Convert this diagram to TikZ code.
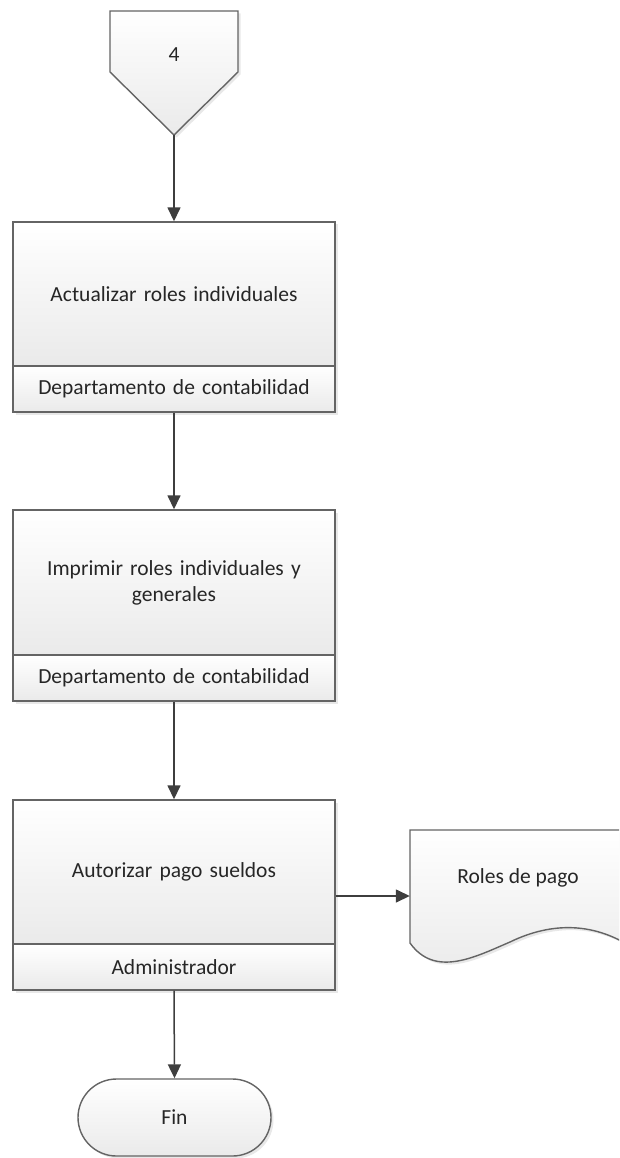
\documentclass[tikz,border=0pt]{standalone}
\usepackage{fontspec}
\setmainfont{Carlito}
\usetikzlibrary{arrows.meta,shapes.misc,shadows,calc}

\definecolor{edge}{HTML}{646464}
\definecolor{wire}{HTML}{3E3E3E}
\definecolor{ink}{HTML}{262626}
\definecolor{fillbot}{HTML}{EAEAEA}

\newcommand\lblfont{\fontsize{21.5pt}{26pt}\selectfont}

\tikzset{
  shadebox/.style={draw=edge, line width=1.4pt, top color=white, bottom color=fillbot,
    drop shadow={shadow xshift=2.5pt, shadow yshift=-2.5pt, opacity=0.18}},
  taskbox/.style={shadebox, rectangle, minimum width=322pt, inner sep=0pt,
    text width=300pt, align=center, font=\lblfont, text=ink},
  rolebox/.style={taskbox, minimum height=46pt},
  endbox/.style={shadebox, rounded rectangle, minimum width=193pt, minimum height=77pt,
    inner sep=0pt, font=\lblfont, text=ink},
  txt/.style={font=\lblfont, text=ink, inner sep=0pt},
  flow/.style={draw=wire, line width=1.5pt, -{Triangle[length=14pt,width=13pt]}},
}

\begin{document}
\begin{tikzpicture}[x=1pt,y=-1pt]
\useasboundingbox (0,0) rectangle (619,1158);
\clip (0,0) rectangle (619,1158);

% off-page connector "4"
\draw[shadebox] (110,11) -- (238,11) -- (238,72) -- (174,135) -- (110,72) -- cycle;
\node[txt] (ref4) at (174,55) {4};
\coordinate (tip) at (174,135);

% step 1
\node[taskbox, minimum height=144pt] (b1) at (174,294) {Actualizar roles individuales};
\node[rolebox] (s1) at (174,389) {Departamento de contabilidad};

% step 2
\node[taskbox, minimum height=145pt] (b2) at (174,582.5) {Imprimir roles individuales y\\generales};
\node[rolebox] (s2) at (174,678) {Departamento de contabilidad};

% step 3
\node[taskbox, minimum height=144pt] (b3) at (174,872) {Autorizar pago sueldos};
\node[rolebox] (s3) at (174,967) {Administrador};

% document "Roles de pago"
\node[minimum width=226pt, minimum height=132pt, inner sep=0pt] (doc) at (523,896) {};
\draw[shadebox] (410,830) -- (636,830) -- (636,950)
  .. controls (590,918) and (545,925) .. (510,942)
  .. controls (475,957) and (435,978) .. (410,943) -- cycle;
\node[txt] (doclabel) at (518,878) {Roles de pago};

% terminator
\node[endbox] (fin) at (174.5,1117.5) {Fin};

% connectors
\draw[flow] (tip) -- (b1.north);
\draw[flow] (s1.south) -- (b2.north);
\draw[flow] (s2.south) -- (b3.north);
\draw[flow] (b3.east |- doc.west) -- (doc.west);
\draw[flow] (s3.south) -- (fin.north);
\end{tikzpicture}
\end{document}
